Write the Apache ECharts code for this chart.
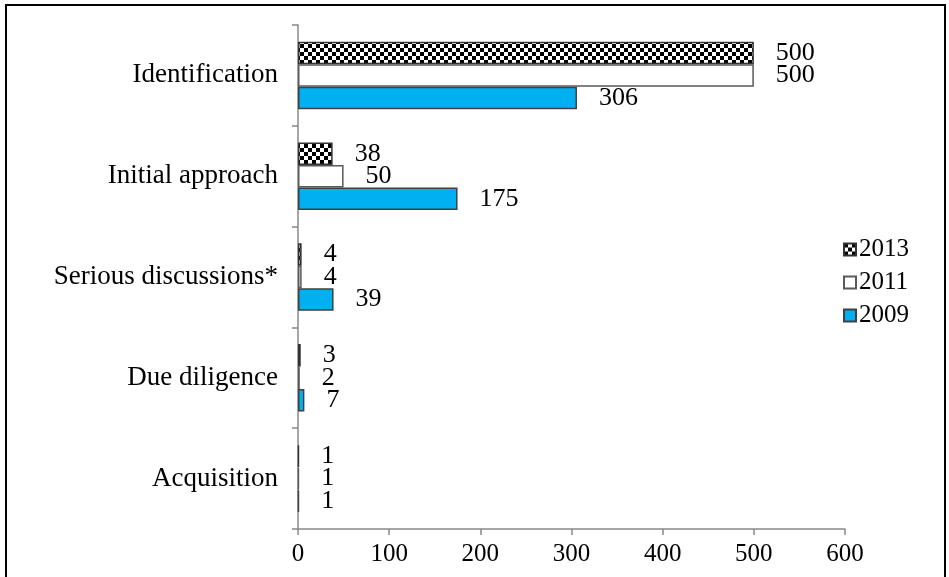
<!DOCTYPE html>
<html>
<head>
<meta charset="utf-8">
<script src="https://cdn.jsdelivr.net/npm/echarts@6/dist/echarts.min.js"></script>
<style>
  html, body { margin: 0; padding: 0; background: #fff; }
  #chart { width: 949px; height: 577px; }
</style>
</head>
<body>
<div id="chart"></div>
<script>
// Stages of the acquisition funnel, top to bottom
const stages = ['Identification', 'Initial approach', 'Serious discussions*', 'Due diligence', 'Acquisition'];
const years = ['2013', '2011', '2009'];
const values2013 = [500, 38, 4, 3, 1];
const values2011 = [500, 50, 4, 2, 1];
const values2009 = [306, 175, 39, 7, 1];
const xTicks = [0, 100, 200, 300, 400, 500, 600];

const FONT = '"Liberation Serif", "Times New Roman", serif';

// Black-and-white checkerboard fill
function checkerPattern() {
  const c = document.createElement('canvas');
  c.width = 8; c.height = 8;
  const g = c.getContext('2d');
  g.fillStyle = '#fff';
  g.fillRect(0, 0, 8, 8);
  g.fillStyle = '#000';
  g.fillRect(0, 0, 4, 4);
  g.fillRect(4, 4, 4, 4);
  return { image: c, repeat: 'repeat' };
}

const chart = echarts.init(document.getElementById('chart'), null, { renderer: 'canvas' });

function barSeries(name, data, fill, border) {
  return {
    name: name,
    type: 'bar',
    data: data,
    barGap: '0%',
    barCategoryGap: '33%',
    itemStyle: { color: fill, borderColor: border, borderWidth: 1.5 },
    label: {
      show: true,
      position: 'right',
      distance: 22,
      color: '#000',
      fontFamily: FONT,
      fontSize: 26
    },
    emphasis: { disabled: true }
  };
}

chart.setOption({
  animation: false,
  backgroundColor: '#fff',
  grid: { left: 298, right: 104, top: 25, bottom: 48, containLabel: false },
  graphic: [{
    type: 'rect',
    shape: { x: 6, y: 5, width: 939, height: 620 },
    style: { fill: 'none', stroke: '#000', lineWidth: 2 },
    silent: true
  }],
  legend: {
    orient: 'vertical',
    left: 838,
    top: 232,
    icon: 'rect',
    itemWidth: 12,
    itemHeight: 12,
    itemGap: 8,
    data: years,
    textStyle: { fontFamily: FONT, fontSize: 25, color: '#000', padding: [0, 0, 0, -2] }
  },
  xAxis: {
    type: 'value',
    min: xTicks[0],
    max: xTicks[xTicks.length - 1],
    interval: 100,
    axisLine: { show: true, lineStyle: { color: '#888', width: 1.5 } },
    axisTick: { show: true, length: 6, lineStyle: { color: '#888', width: 1.5 } },
    splitLine: { show: false },
    axisLabel: { fontFamily: FONT, fontSize: 25, color: '#000', margin: 13 }
  },
  yAxis: {
    type: 'category',
    data: stages,
    inverse: true,
    axisLine: { show: true, lineStyle: { color: '#888', width: 1.5 } },
    axisTick: { show: true, length: 6, lineStyle: { color: '#888', width: 1.5 } },
    axisLabel: { fontFamily: FONT, fontSize: 27, color: '#000', margin: 20 }
  },
  series: [
    barSeries(years[0], values2013, checkerPattern(), '#333'),
    barSeries(years[1], values2011, '#fff', '#595959'),
    barSeries(years[2], values2009, '#00B0F0', '#404040')
  ]
});
</script>
</body>
</html>
